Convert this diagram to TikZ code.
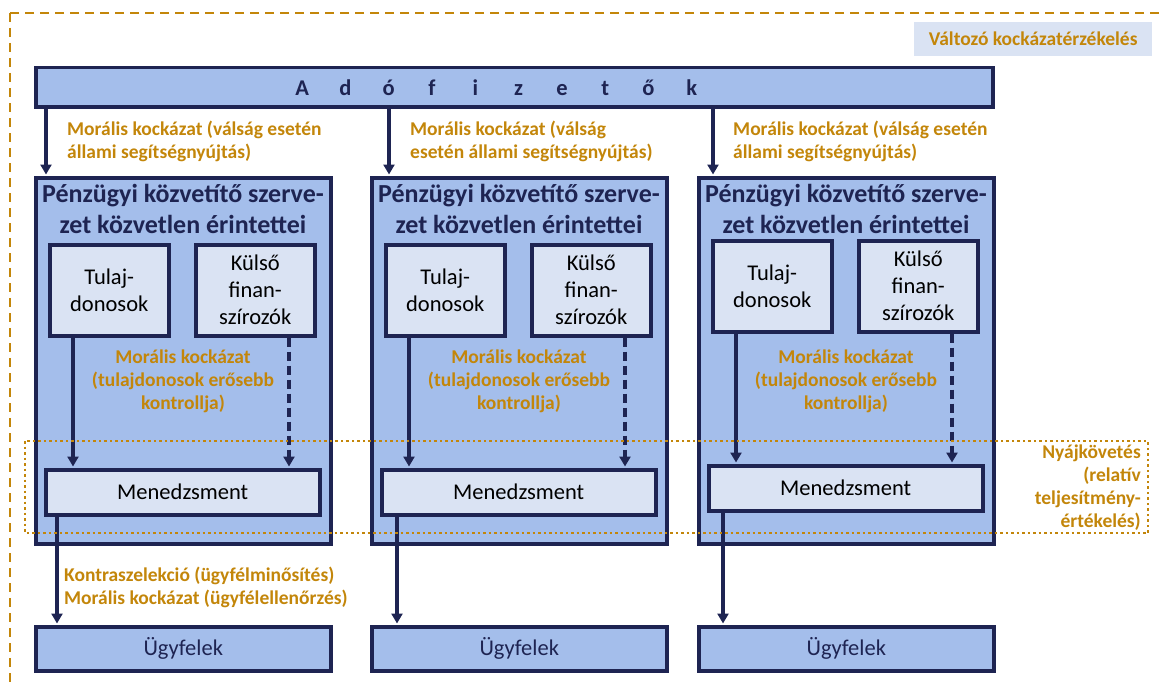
\documentclass[tikz,border=0pt]{standalone}
\usepackage{fontspec}
\setmainfont{Carlito}
\usetikzlibrary{arrows.meta}

\definecolor{navy}{HTML}{1E2452}
\definecolor{midblue}{HTML}{A4BEEB}
\definecolor{paleblue}{HTML}{DAE3F3}
\definecolor{ochre}{HTML}{C3860A}

% one letter of the spread-out title
\newcommand\spaced[1]{\makebox[43.3pt]{#1}}

\tikzset{
  panel/.style={draw=navy,line width=3.5pt,fill=midblue,anchor=north west,inner sep=0pt},
  inbox/.style={draw=navy,line width=3.5pt,fill=paleblue,anchor=north west,inner sep=0pt,
    align=center,font=\fontsize{22.5}{27}\selectfont},
  risk/.style={text=ochre,font=\bfseries\fontsize{19.5}{23}\selectfont,inner sep=0pt},
  arr/.style={navy,line width=3.2pt,shorten >=1.5pt,-{Triangle[width=11pt,length=10pt]}}
}

\begin{document}
\begin{tikzpicture}[x=1pt,y=-1pt]
  \clip (0,0) rectangle (1159,685);
  \useasboundingbox (0,0) rectangle (1159,685);

  % frame and its tag
  \draw[ochre,line width=2.6pt,dash pattern=on 9pt off 6pt] (10,13) rectangle (1190,720);
  \node[
    fill=paleblue,
    anchor=north west,
    minimum width=238pt,
    minimum height=34pt,
    text=ochre,
    font=\bfseries\fontsize{19.5}{23}\selectfont
  ] (tag) at (914,22) {Változó kockázatérzékelés};

  \node[panel,minimum width=957pt,minimum height=39pt] (tax) at (34,66) {};
  \node[text=navy,font=\bfseries\fontsize{22.5}{27}\selectfont,inner sep=0pt] (taxtxt) at (497,88)
    {\spaced{A}\spaced{d}\spaced{ó}\spaced{f}\spaced{i}\spaced{z}\spaced{e}\spaced{t}\spaced{ő}\spaced{k}};

  % the three intermediaries
  \foreach \i/\xo/\dy/\ta/\ba/\lx/\lab in {
    1/34/0/12/23/33/{Morális kockázat (válság esetén\\állami segítségnyújtás)},
    2/370/0/19/27/40/{Morális kockázat (válság\\esetén állami segítségnyújtás)},
    3/697/-4/16/26/36/{Morális kockázat (válság esetén\\állami segítségnyújtás)}}{
    \node[panel,minimum width=295pt,minimum height=366pt] (box\i) at (\xo,176) {};
    \node[text=navy,font=\bfseries\fontsize{26}{31}\selectfont,align=center,inner sep=0pt]
      (ttl\i) at (\xo+149,208.5) {Pénzügyi közvetítő szerve-\\zet közvetlen érintettei};
    \node[inbox,minimum width=119pt,minimum height=91pt] (tul\i) at (\xo+14,243+\dy) {Tulaj-\\donosok};
    \node[inbox,minimum width=119pt,minimum height=91pt] (ext\i) at (\xo+160,243+\dy) {Külső\\finan-\\szírozók};
    \node[risk,align=center] (moral\i) at (\xo+149,381) {Morális kockázat\\(tulajdonosok erősebb\\kontrollja)};
    \node[inbox,minimum width=274pt,minimum height=45pt] (mgm\i) at (\xo+10,468+\dy) {Menedzsment};
    \node[panel,minimum width=295pt,minimum height=44pt,text=navy,
      font=\fontsize{22.5}{27}\selectfont] (cli\i) at (\xo,625) {Ügyfelek};
    \node[risk,align=left,anchor=west] (help\i) at (\xo+\lx,141.5) {\lab};

    \coordinate (ta\i) at (\xo+\ta,0);
    \coordinate (own\i) at (\xo+39,0);
    \coordinate (lend\i) at (\xo+255,0);
    \coordinate (serv\i) at (\xo+\ba,0);
    \draw[arr] (tax.south -| ta\i) -- (box\i.north -| ta\i);
    \draw[arr] (tul\i.south -| own\i) -- (mgm\i.north -| own\i);
    \draw[arr,dash pattern=on 9pt off 5pt] (ext\i.south -| lend\i) -- (mgm\i.north -| lend\i);
    \draw[arr] (mgm\i.south -| serv\i) -- (cli\i.north -| serv\i);
  }

  \node[risk,align=left,anchor=west] (select) at (64,587)
    {Kontraszelekció (ügyfélminősítés)\\Morális kockázat (ügyfélellenőrzés)};

  % herding band
  \draw[ochre,line width=2.5pt,dash pattern=on 2.5pt off 3pt] (25,441) rectangle (1148,533);
  \node[risk,align=right,anchor=east] (herd) at (1141,488)
    {Nyájkövetés\\(relatív\\teljesítmény-\\értékelés)};
\end{tikzpicture}
\end{document}
